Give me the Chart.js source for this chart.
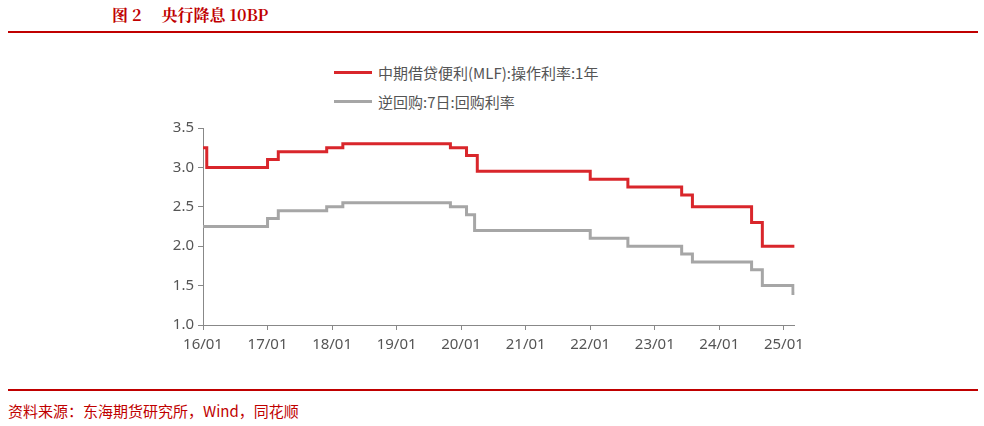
<!DOCTYPE html>
<html><head><meta charset="utf-8">
<script src="https://cdn.jsdelivr.net/npm/chart.js@4"></script>
<style>
body{margin:0;width:984px;height:426px;background:#fff;position:relative;font-family:"Noto Sans CJK SC",sans-serif;overflow:hidden}
#title{position:absolute;left:112px;top:3px;color:#c00000;font-size:16px;font-weight:bold;font-family:"Noto Serif CJK SC","Noto Sans CJK SC",serif}
.rl{position:absolute;left:8px;width:970px;height:2px;background:#c00000}
#src{position:absolute;left:8px;top:400px;color:#c00000;font-size:15px}
#leg{position:absolute;left:334px;top:58px;font-size:15px;color:#555;font-family:"Noto Sans CJK SC",sans-serif}
#leg div{height:29px;display:flex;align-items:center}
#leg span.s{display:inline-block;width:38px;height:3px;margin-right:6px}
#wrap{position:absolute;left:160px;top:115px;width:650px;height:245px}
</style></head><body>
<div id="title">图 2　 央行降息 10BP</div>
<div class="rl" style="top:31px"></div>
<div id="leg"><div><span class="s" style="background:#d9262b"></span>中期借贷便利(MLF):操作利率:1年</div><div><span class="s" style="background:#a6a6a6"></span>逆回购:7日:回购利率</div></div>
<div id="wrap"><canvas id="c"></canvas></div>
<div class="rl" style="top:389px"></div>
<div id="src">资料来源：东海期货研究所，Wind，同花顺</div>
<script>
// x = months since 2016-01
const mlfX = [0,0.7,12,14,23,26,46,49,51,72,79,89,91,102,104,110];
const mlfY = [3.25,3.0,3.1,3.2,3.25,3.3,3.25,3.15,2.95,2.85,2.75,2.65,2.5,2.3,2.0,2.0];
const rrX = [0,12,14,23,26,46,49,50.5,72,79,89,91,102,104,109.7,110];
const rrY = [2.25,2.35,2.45,2.5,2.55,2.5,2.4,2.2,2.1,2.0,1.9,1.8,1.7,1.5,1.4,1.4];
const yTicks = [1.0,1.5,2.0,2.5,3.0,3.5];
const xLabels = ['16/01','17/01','18/01','19/01','20/01','21/01','22/01','23/01','24/01','25/01'];
const pts=(xs,ys)=>xs.map((x,i)=>({x,y:ys[i]}));
new Chart(document.getElementById('c'),{type:'line',
data:{datasets:[
{data:pts(rrX,rrY),borderColor:'#a6a6a6',borderWidth:3,stepped:'before',pointRadius:0},
{data:pts(mlfX,mlfY),borderColor:'#d9262b',borderWidth:3,stepped:'before',pointRadius:0}]},
options:{responsive:true,maintainAspectRatio:false,animation:false,
layout:{padding:{top:11,right:11,left:0,bottom:0}},
plugins:{legend:{display:false},tooltip:{enabled:false}},
scales:{
x:{type:'linear',min:0,max:110,afterBuildTicks:a=>{a.ticks=xLabels.map((_,i)=>({value:i*12}));},
ticks:{callback:(v)=>xLabels[v/12],color:'#555',font:{size:15,family:'Noto Sans'},maxRotation:0,autoSkip:false,padding:6},
grid:{display:true,drawOnChartArea:false,color:'#888',tickLength:5},border:{color:'#888'}},
y:{min:1,max:3.5,afterBuildTicks:a=>{a.ticks=yTicks.map(v=>({value:v}));},afterFit:a=>{a.width=43;},
ticks:{callback:v=>v.toFixed(1),color:'#555',font:{size:15,family:'Noto Sans'},padding:4},
grid:{display:true,drawOnChartArea:false,color:'#888',tickLength:5},border:{color:'#888'}}}}});
</script></body></html>
